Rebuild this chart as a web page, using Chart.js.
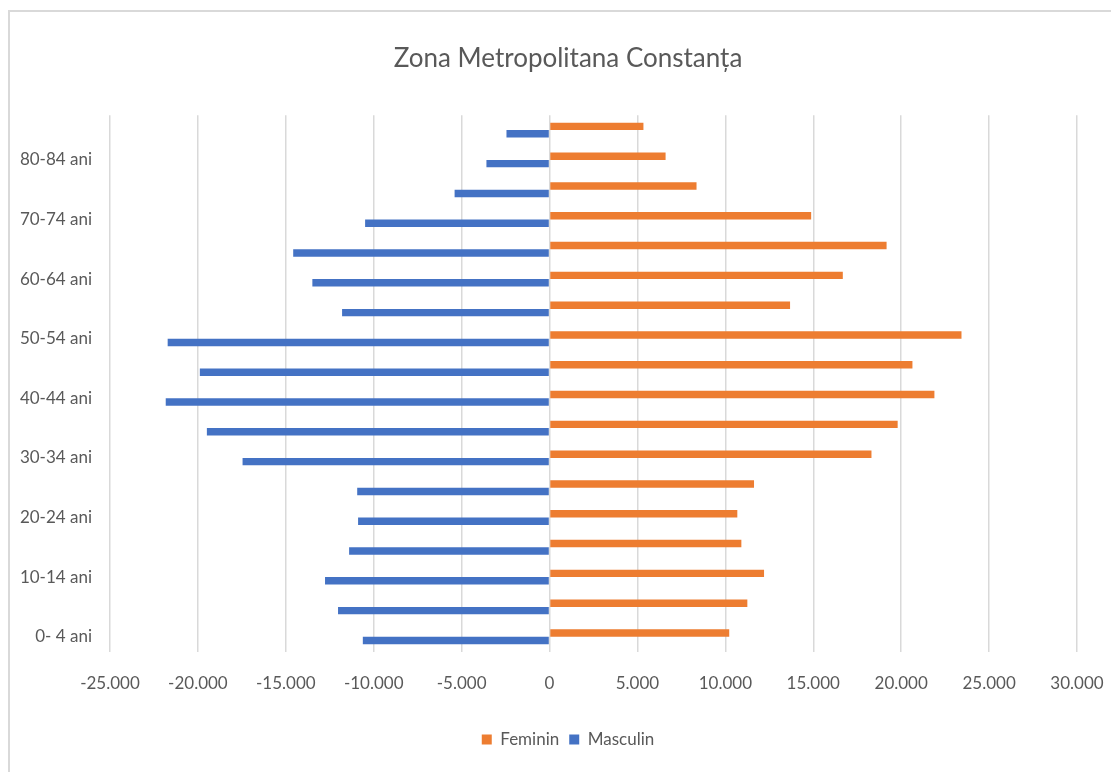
<!DOCTYPE html>
<html>
<head>
<meta charset="utf-8">
<script src="https://cdn.jsdelivr.net/npm/chart.js@4.4.1/dist/chart.umd.min.js"></script>
<style>
  html, body { margin: 0; padding: 0; background: #fff; overflow: hidden; width: 1111px; height: 772px; }
  #frame { position: absolute; left: 8px; top: 10px; width: 1200px; height: 900px;
           border-left: 2px solid #d9d9d9; border-top: 2px solid #d9d9d9; }
  #chartPiramida { position: absolute; left: 0; top: 0; }
</style>
</head>
<body>
<div id="frame"></div>
<canvas id="chartPiramida" width="1140" height="772"></canvas>
<script>
const grupeVarsta = [
    '0- 4 ani', '5- 9 ani', '10-14 ani', '15-19 ani', '20-24 ani', '25-29 ani',
    '30-34 ani', '35-39 ani', '40-44 ani', '45-49 ani', '50-54 ani', '55-59 ani',
    '60-64 ani', '65-69 ani', '70-74 ani', '75-79 ani', '80-84 ani', '85+ ani'
];
const feminin = [10220, 11250, 12200, 10910, 10680, 11630, 18310, 19800, 21890,
    20640, 23430, 13680, 16680, 19170, 14880, 8360, 6600, 5340];
const masculin = [-10620, -12030, -12770, -11400, -10890, -10940, -17460, -19490, -21830,
    -19890, -21720, -11800, -13490, -14580, -10490, -5400, -3590, -2450];
const axaMin = -25000;
const axaMax = 30000;
const pas = 5000;

const fontFamily = 'Lato, "Open Sans", sans-serif';
const textColor = '#595959';

function formatMii(v) {
    const s = String(Math.abs(v)).replace(/\B(?=(\d{3})+(?!\d))/g, '.');
    return v < 0 ? '-' + s : s;
}

const ctx = document.getElementById('chartPiramida').getContext('2d');

new Chart(ctx, {
    type: 'bar',
    data: {
        labels: grupeVarsta,
        datasets: [{
            label: 'Feminin',
            data: feminin,
            backgroundColor: '#ED7D31',
            categoryPercentage: 0.5,
            barPercentage: 1.0
        }, {
            label: 'Masculin',
            data: masculin,
            backgroundColor: '#4472C4',
            categoryPercentage: 0.5,
            barPercentage: 1.0
        }]
    },
    options: {
        responsive: false,
        animation: false,
        indexAxis: 'y',
        layout: {
            padding: { left: 0, right: 4, top: 0, bottom: 14 }
        },
        plugins: {
            title: {
                display: true,
                text: 'Zona Metropolitana Constanța',
                color: textColor,
                font: { family: fontFamily, size: 26, weight: 'normal' },
                padding: { top: 43, bottom: 41 }
            },
            legend: {
                position: 'bottom',
                labels: {
                    color: textColor,
                    font: { family: fontFamily, size: 17 },
                    boxWidth: 10,
                    boxHeight: 10,
                    padding: 10
                }
            },
            tooltip: { enabled: false }
        },
        scales: {
            x: {
                min: axaMin,
                max: axaMax,
                ticks: {
                    stepSize: pas,
                    color: textColor,
                    font: { family: fontFamily, size: 17 },
                    padding: 22,
                    callback: v => formatMii(v)
                },
                grid: { color: '#d9d9d9', lineWidth: 1.5, drawTicks: false },
                border: { display: false },
                afterFit: s => { s.height += 5; }
            },
            y: {
                reverse: true,
                ticks: {
                    autoSkip: false,
                    color: textColor,
                    font: { family: fontFamily, size: 17 },
                    padding: 18,
                    callback: (v, i) => (i % 2 === 0 ? grupeVarsta[i] : '')
                },
                grid: { display: false, drawTicks: false },
                border: { display: false },
                afterFit: s => { s.width = 110; }
            },
            // axa goala in dreapta, doar ca titlul si legenda sa fie centrate ca in Excel
            dreapta: {
                type: 'category',
                position: 'right',
                labels: grupeVarsta,
                ticks: { display: false },
                grid: { display: false, drawTicks: false },
                border: { display: false },
                afterFit: s => { s.width = 59; }
            }
        }
    }
});
</script>
</body>
</html>
